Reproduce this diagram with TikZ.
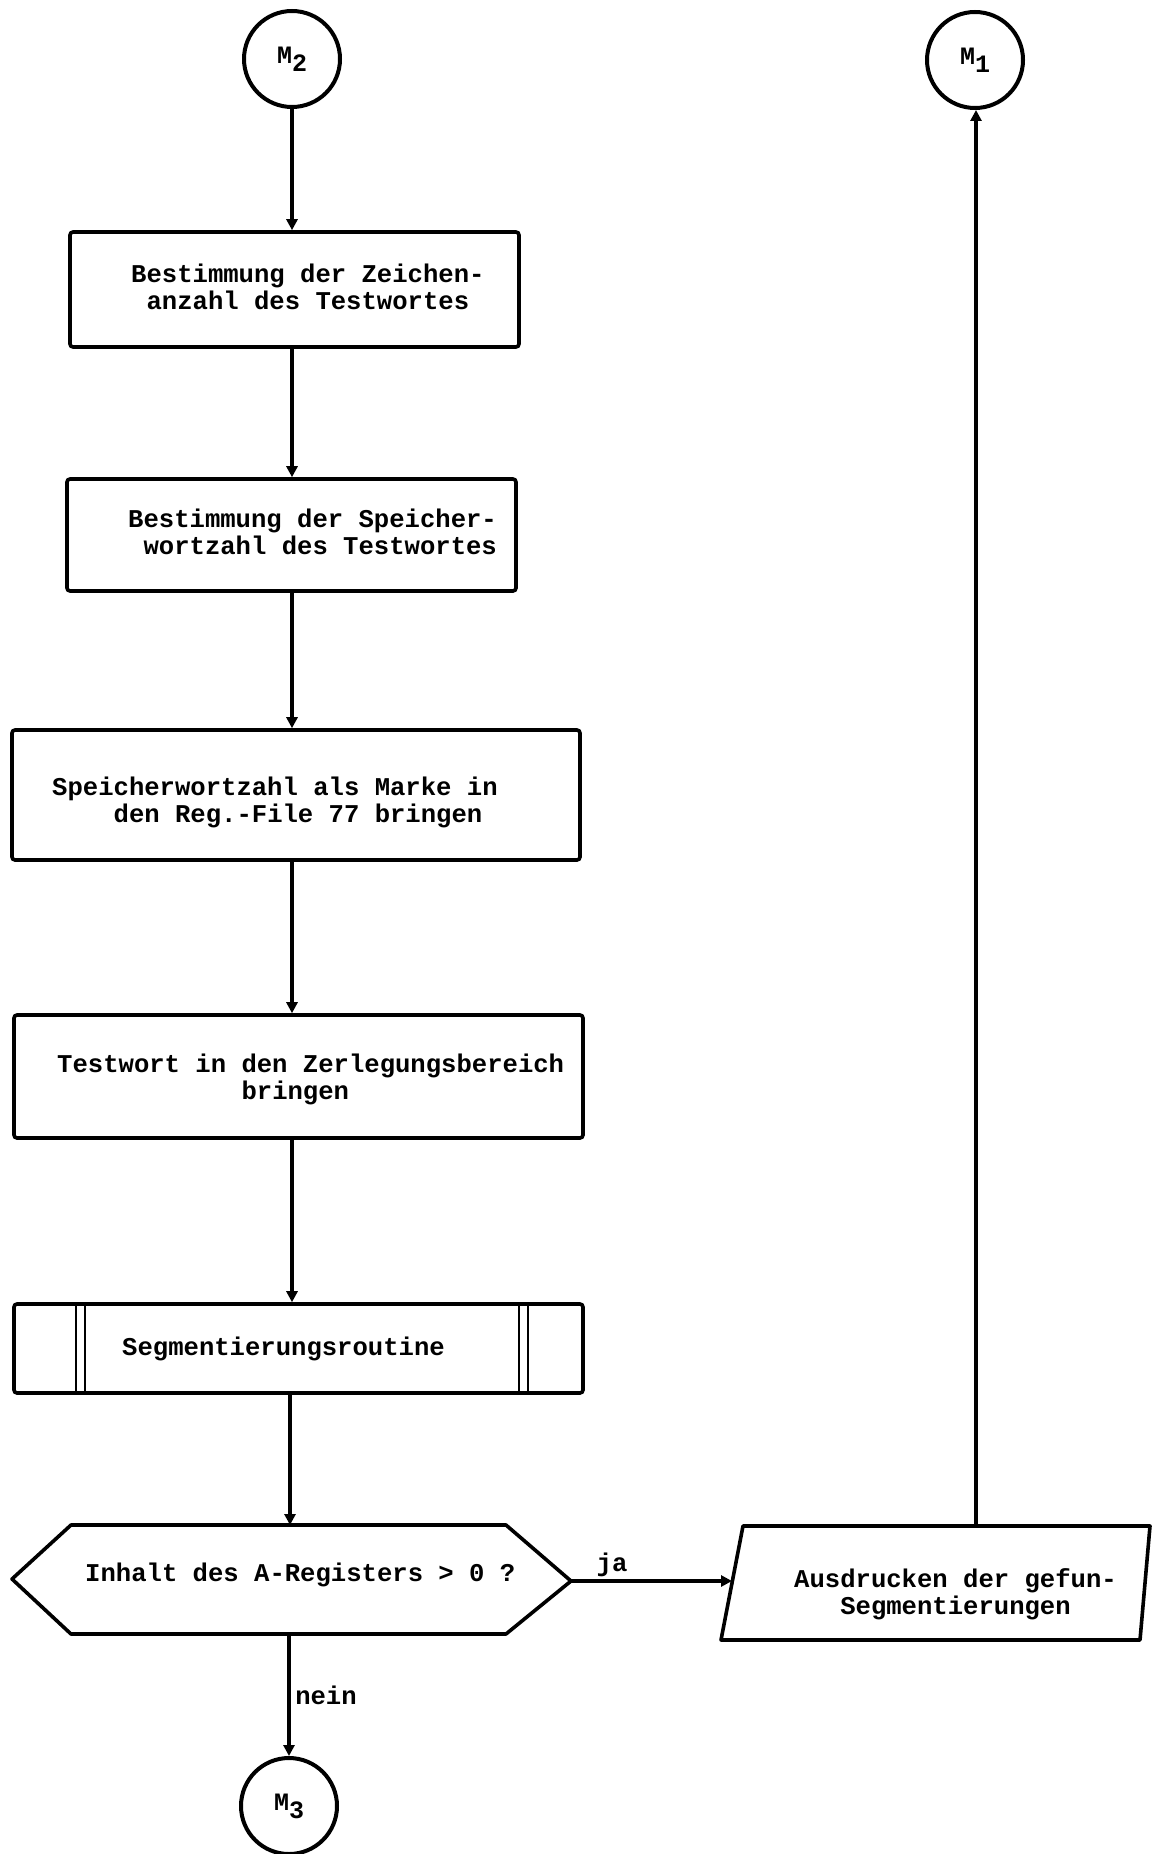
\documentclass[tikz,border=0pt]{standalone}
\usepackage{fontspec}
\setmonofont{Liberation Mono}
\usetikzlibrary{arrows.meta}
\newcommand\lead[1]{\hphantom{#1}}
\begin{document}
\begin{tikzpicture}[x=1pt,y=-1pt,
  txt/.style={font=\ttfamily\bfseries\fontsize{25.6}{27}\selectfont, inner sep=0pt, align=left, anchor=west},
  stepbox/.style={draw, line width=3.6pt, rounded corners=3pt, inner sep=0pt},
  conn/.style={circle, draw, line width=4pt, minimum size=96pt, inner sep=0pt,
               font=\ttfamily\bfseries\fontsize{25}{27}\selectfont},
  flow/.style={line width=3.2pt, -{Triangle[length=11pt,width=11pt]}},
  outline/.style={line width=3.6pt, line join=round}
]
\useasboundingbox (0,0) rectangle (1153,1854);

% connectors (off-page marks)
\node[conn] (m2) at (292,59) {M\raisebox{-0.6ex}{2}};
\node[conn] (m1) at (975,60) {M\raisebox{-0.6ex}{1}};
\node[conn] (m3) at (289,1806) {M\raisebox{-0.6ex}{3}};

% process boxes
\node[stepbox, minimum width=449pt, minimum height=115pt] (b1) at (294.5,289.5) {};
\node[stepbox, minimum width=449pt, minimum height=112pt] (b2) at (291.5,535) {};
\node[stepbox, minimum width=568pt, minimum height=130pt] (b3) at (296,795) {};
\node[stepbox, minimum width=569pt, minimum height=123pt] (b4) at (298.5,1076.5) {};
\node[stepbox, minimum width=569pt, minimum height=89pt] (b5) at (298.5,1348.5) {};

% predefined-process side bars
\draw[line width=2.8pt] (76,1304) -- (76,1393) (85,1304) -- (85,1393);
\draw[line width=2.8pt] (519,1304) -- (519,1393) (528,1304) -- (528,1393);

% box texts
\node[txt] (t1) at (131,287) {Bestimmung der Zeichen-\\\lead{a}anzahl des Testwortes};
\node[txt] (t2) at (128,532) {Bestimmung der Speicher-\\\lead{a}wortzahl des Testwortes};
\node[txt] (t3) at (52,802) {Speicherwortzahl als Marke in\\\lead{aaaa}den Reg.-File 77 bringen};
\node[txt] (t4) at (57,1079) {Testwort in den Zerlegungsbereich\\\lead{aaaaaaaaaaaa}bringen};
\node[txt] (t5) at (122,1349) {Segmentierungsroutine};

% decision (hexagon)
\draw[outline] (12,1579) -- (71,1525) -- (506,1525) -- (571,1581)
             -- (506,1634) -- (71,1634) -- cycle;
\coordinate (htop) at (290,1525);
\coordinate (hbot) at (289,1634);
\coordinate (hright) at (571,1581);
\node[txt] (t6) at (85,1575) {Inhalt des A-Registers > 0 ?};

% output (parallelogram)
\draw[outline] (743,1526) -- (1150,1526) -- (1140,1640) -- (721,1640) -- cycle;
\coordinate (pleft) at (732,1581);
\coordinate (ptop) at (976,1526);
\node[txt] (t7) at (794,1594) {Ausdrucken der gefun-\\\lead{aaa}Segmentierungen};

% flow lines
\draw[flow] (m2.south) -- (m2.south |- b1.north);
\draw[flow] (b1.south -| m2) -- (m2 |- b2.north);
\draw[flow] (b2.south -| m2) -- (m2 |- b3.north);
\draw[flow] (b3.south -| m2) -- (m2 |- b4.north);
\draw[flow] (b4.south -| m2) -- (m2 |- b5.north);
\draw[flow] (b5.south -| htop) -- (htop);
\draw[flow] (hbot) -- (hbot |- m3.north);
\draw[flow] (hright) -- (pleft);
\draw[flow] (ptop) -- (ptop |- m1.south);

% branch labels
\node[txt, anchor=center] (ja) at (612,1565) {ja};
\node[txt, anchor=center] (nein) at (326,1695) {nein};
\end{tikzpicture}
\end{document}
